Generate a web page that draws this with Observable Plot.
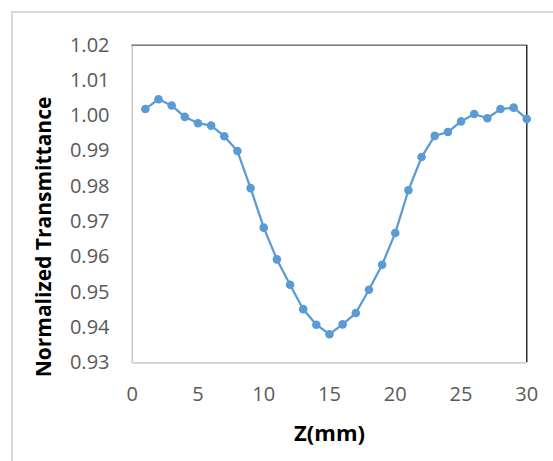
<!DOCTYPE html>
<html>
<head>
<meta charset="utf-8">
<script src="https://cdn.jsdelivr.net/npm/d3@7"></script>
<script src="https://cdn.jsdelivr.net/npm/@observablehq/plot@0.6"></script>
<style>
  html, body { margin: 0; padding: 0; background: #fff; }
  #wrap { position: relative; width: 553px; height: 461px; overflow: hidden; }
  #border { position: absolute; left: 11px; top: 11px; width: 560px; height: 470px;
            border-left: 2px solid #d9d9d9; border-top: 2px solid #d9d9d9; box-sizing: border-box; }
  #chart { position: absolute; left: 0; top: 0; }
</style>
</head>
<body>
<div id="wrap"><div id="border"></div><div id="chart"></div></div>
<script>
const zPositions = [1,2,3,4,5,6,7,8,9,10,11,12,13,14,15,16,17,18,19,20,21,22,23,24,25,26,27,28,29,30];
const transmittance = [1.0019,1.0047,1.0029,0.9997,0.9979,0.9972,0.9942,0.9900,0.9795,0.9683,
                       0.9593,0.9521,0.9452,0.9408,0.9381,0.9409,0.9441,0.9507,0.9578,0.9668,
                       0.9789,0.9883,0.9943,0.9954,0.9984,1.0005,0.9993,1.0019,1.0023,0.9991];
const xTicks = [0,5,10,15,20,25,30];
const yTicks = [0.93,0.94,0.95,0.96,0.97,0.98,0.99,1.00,1.01,1.02];
const xTitle = "Z(mm)";
const yTitle = "Normalized Transmittance";

const data = zPositions.map((z, i) => ({z, t: transmittance[i]}));
const blue = "#5b9bd5";

const chart = Plot.plot({
  width: 553,
  height: 461,
  marginLeft: 131.7,
  marginRight: 26.7,
  marginTop: 44.7,
  marginBottom: 98.7,
  style: {fontFamily: "'Open Sans', sans-serif", fontSize: "20px", background: "transparent", overflow: "visible"},
  x: {domain: [0, 30]},
  y: {domain: [0.93, 1.02]},
  marks: [
    Plot.axisX({ticks: xTicks, tickSize: 0, tickPadding: 23.5, tickFormat: d => String(d), fill: "#595959", label: null, fontSize: 20}),
    Plot.axisY({ticks: yTicks, tickSize: 0, tickPadding: 22.7, tickFormat: d3.format(".2f"), fill: "#595959", label: null, fontSize: 20}),
    Plot.ruleX([0], {stroke: "#bfbfbf", strokeWidth: 1.3}),
    Plot.ruleY([0.93], {stroke: "#bfbfbf", strokeWidth: 1.3}),
    Plot.ruleY([1.02], {stroke: "#595959", strokeWidth: 1.3}),
    Plot.ruleX([30], {stroke: "#111", strokeWidth: 1.3}),
    Plot.line(data, {x: "z", y: "t", stroke: blue, strokeWidth: 2.25}),
    Plot.dot(data, {x: "z", y: "t", r: 4.3, fill: blue, stroke: null}),
    Plot.text([xTitle], {frameAnchor: "bottom", dy: 70.7, text: d => d, fontWeight: "bold", fontSize: 22, fill: "#000", lineAnchor: "middle", textAnchor: "middle"}),
    Plot.text([yTitle], {frameAnchor: "left", dx: -88.2, dy: 33, rotate: -90, text: d => d, fontWeight: "bold", fontSize: 21, fill: "#000", lineAnchor: "middle", textAnchor: "middle"})
  ]
});
document.getElementById("chart").appendChild(chart);
</script>
</body>
</html>
